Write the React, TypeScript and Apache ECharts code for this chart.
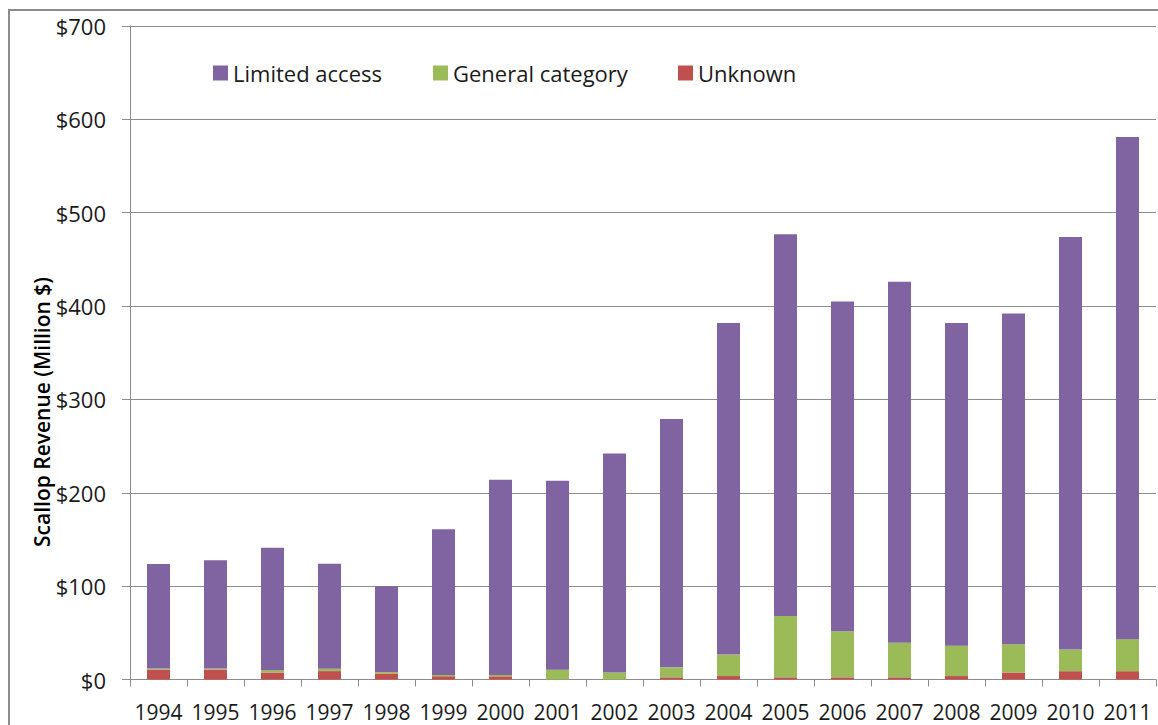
import React, { useEffect, useRef } from "react";
import * as echarts from "echarts";

const years = ["1994","1995","1996","1997","1998","1999","2000","2001","2002","2003","2004","2005","2006","2007","2008","2009","2010","2011"];
const unknown = [10.7, 10.7, 7.5, 9, 6.5, 3.5, 3.4, 0, 0, 2.3, 3.7, 2.3, 2.3, 2.3, 3.7, 7.5, 8.9, 8.9];
const generalCategory = [1.1, 1.1, 2.5, 2.5, 1.5, 1.3, 1.4, 10.5, 7.5, 10.7, 23, 65.7, 49.3, 37, 32.5, 30.3, 23.2, 34.3];
const limitedAccess = [112, 116, 131, 112.5, 92, 156.2, 209.2, 202.5, 234.5, 266, 355.3, 409, 353.4, 386.7, 345.8, 354.2, 441.9, 537.8];
const yTicks = [0, 100, 200, 300, 400, 500, 600, 700];

const FONT = "Open Sans";
const TXT = "#1a1a1a";
const GRID = "#8c8c8c";

export default function App() {
  const ref = useRef<HTMLDivElement>(null);
  useEffect(() => {
    if (!ref.current) return;
    const chart = echarts.init(ref.current, null, { renderer: "svg" });
    const legendText = { fontFamily: FONT, fontSize: 22, color: TXT };
    const legendBase = { top: 62, itemWidth: 15, itemHeight: 15, padding: 0, textStyle: legendText, icon: "rect" };
    chart.setOption({
      animation: false,
      backgroundColor: "#ffffff",
      grid: { left: 130, right: 2, top: 26, bottom: 45.5, containLabel: false },
      legend: [
        { ...legendBase, data: ["Limited access"], left: 213 },
        { ...legendBase, data: ["General category"], left: 433 },
        { ...legendBase, data: ["Unknown"], left: 678 },
      ],
      xAxis: {
        type: "category",
        data: years,
        axisLine: { lineStyle: { color: GRID, width: 1 } },
        axisTick: { show: true, length: 7, lineStyle: { color: GRID } },
        axisLabel: { fontFamily: FONT, fontSize: 21, lineHeight: 16, color: TXT, margin: 24, interval: 0 },
      },
      yAxis: {
        type: "value",
        min: 0,
        max: 700,
        interval: 100,
        axisLine: { show: true, lineStyle: { color: GRID, width: 1 } },
        axisTick: { show: true, length: 8, lineStyle: { color: GRID } },
        splitLine: { show: true, lineStyle: { color: GRID, width: 1 } },
        axisLabel: {
          fontFamily: FONT,
          fontSize: 22,
          color: TXT,
          margin: 24,
          formatter: (v: number) => (yTicks.includes(v) ? "$" + v : ""),
        },
      },
      series: [
        { name: "Unknown", type: "bar", stack: "total", data: unknown, barWidth: 23, itemStyle: { color: "#C0504D" } },
        { name: "General category", type: "bar", stack: "total", data: generalCategory, barWidth: 23, itemStyle: { color: "#9BBB59" } },
        { name: "Limited access", type: "bar", stack: "total", data: limitedAccess, barWidth: 23, itemStyle: { color: "#8064A2" } },
      ],
      graphic: [
        { type: "line", shape: { x1: 9, y1: 10, x2: 9, y2: 725 }, style: { stroke: "#8c8c8c", lineWidth: 2 } },
        { type: "line", shape: { x1: 8, y1: 10, x2: 1158, y2: 10 }, style: { stroke: "#8c8c8c", lineWidth: 2 } },
        {
          type: "text",
          x: 42,
          y: 412,
          rotation: Math.PI / 2,
          style: {
            text: "Scallop Revenue (Million $)",
            fontFamily: FONT,
            fontSize: 21,
            fontWeight: 600,
            fill: "#000",
            align: "center",
            verticalAlign: "middle",
          },
        },
      ],
    });
    return () => chart.dispose();
  }, []);
  return <div ref={ref} style={{ position: "fixed", left: 0, top: 0, width: 1158, height: 725, background: "#fff" }} />;
}
